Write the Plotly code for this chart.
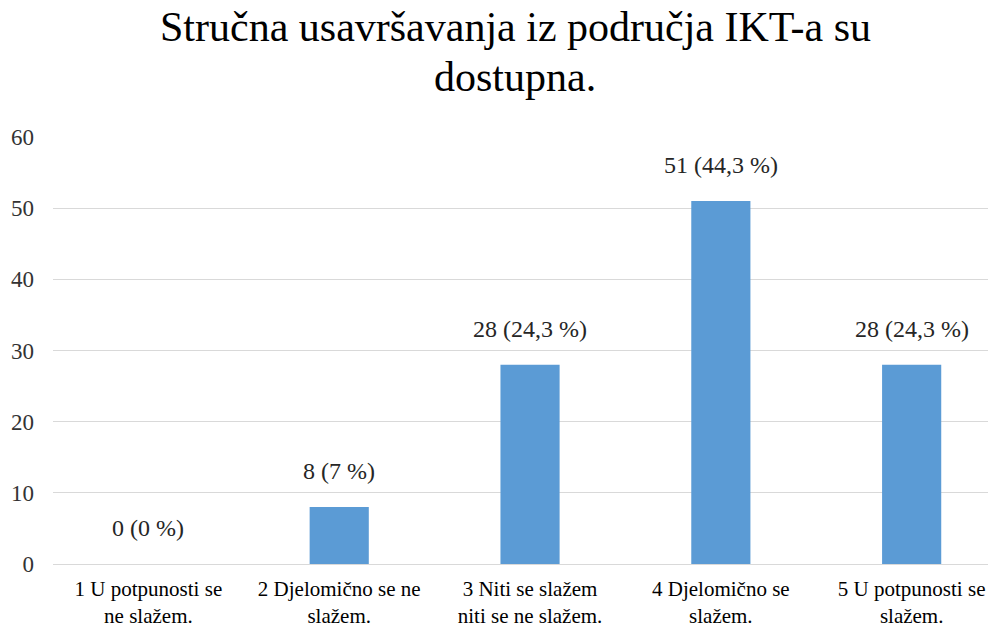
import plotly.graph_objects as go

categories = [
    '1 U potpunosti se<br>ne slažem.',
    '2 Djelomično se ne<br>slažem.',
    '3 Niti se slažem<br>niti se ne slažem.',
    '4 Djelomično se<br>slažem.',
    '5 U potpunosti se<br>slažem.',
]
counts = [0, 8, 28, 51, 28]
percents = ['0', '7', '24,3', '44,3', '24,3']
title_lines = ['Stručna usavršavanja iz područja IKT-a su', 'dostupna.']

labels = ['%d (%s %%)' % (c, p) for c, p in zip(counts, percents)]

serif = 'Liberation Serif'

bars = go.Bar(
    x=categories,
    y=counts,
    marker=dict(color='#5b9bd5', line=dict(width=0)),
    width=0.31,
    hoverinfo='skip',
)

# value labels above the bars
notes = []
for cat, c, lab in zip(categories, counts, labels):
    notes.append(dict(
        x=cat, y=c, text=lab,
        xref='x', yref='y',
        xanchor='center', yanchor='bottom',
        yshift=21,
        showarrow=False,
        font=dict(family=serif, size=24, color='#262626'),
    ))

# two-line title
for txt, ypos in zip(title_lines, [1.200, 1.082]):
    notes.append(dict(
        x=0.49, y=ypos, text=txt,
        xref='paper', yref='paper',
        xanchor='center', yanchor='bottom',
        showarrow=False,
        font=dict(family=serif, size=42, color='#000000'),
    ))

layout = go.Layout(
    width=996,
    height=630,
    paper_bgcolor='white',
    plot_bgcolor='white',
    showlegend=False,
    font=dict(family=serif, color='#262626'),
    annotations=notes,
    margin=dict(l=45, r=8, t=129, b=74),
    xaxis=dict(
        range=[-0.5, 4.442],
        automargin=False,
        showgrid=False,
        showline=False,
        ticks='',
        ticklabelstandoff=10,
        tickfont=dict(family=serif, size=21, color='#000000'),
    ),
    yaxis=dict(
        range=[0, 60],
        dtick=10,
        automargin=False,
        showgrid=True,
        gridcolor='#d9d9d9',
        gridwidth=1,
        zeroline=True,
        zerolinecolor='#d9d9d9',
        zerolinewidth=1,
        showline=False,
        ticks='',
        ticklabelstandoff=18,
        tickfont=dict(family=serif, size=23, color='#333333'),
    ),
)

fig = go.Figure(data=[bars], layout=layout)
fig.write_html('out.html')
